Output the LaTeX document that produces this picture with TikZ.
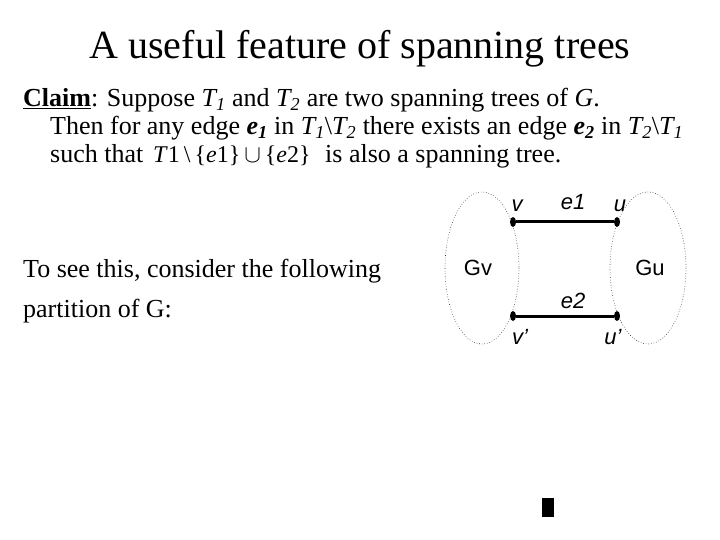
\documentclass[tikz,border=0pt]{standalone}
\usepackage{fontspec}
\setmainfont{Liberation Serif}
\setsansfont{Liberation Sans}
\usetikzlibrary{shapes.geometric}

\begin{document}
\begin{tikzpicture}[x=1pt, y=-1pt,
    textline/.style={anchor=base west, inner sep=0pt},
    vert/.style={ellipse, fill=black, inner sep=0pt, minimum width=6pt, minimum height=10pt},
    lbl/.style={font=\sffamily\fontsize{22}{26}\selectfont, inner sep=0pt},
    edgeline/.style={line width=3pt},
    part/.style={draw=black!80, dotted, line width=0.6pt}]
    \useasboundingbox[fill=white] (0,0) rectangle (720,540);

    % 标题
    \node[anchor=base, inner sep=0pt, font=\fontsize{40}{46}\selectfont] (title) at (360,59)
        {A useful feature of spanning trees};

    % 命题
    \node[textline, font=\fontsize{26}{28}\selectfont] (claimA) at (23,107)
        {\underline{\textbf{Claim}}: Suppose \textit{T\textsubscript{1}} and \textit{T\textsubscript{2}} are two spanning trees of \textit{G}.};
    \node[textline, font=\fontsize{26}{28}\selectfont] (claimB) at (50,135)
        {Then for any edge \textbf{\textit{e\textsubscript{1}}} in \textit{T\textsubscript{1}}\textbackslash\textit{T\textsubscript{2}} there exists an edge \textbf{\textit{e\textsubscript{2}}} in \textit{T\textsubscript{2}}\textbackslash\textit{T\textsubscript{1}}};
    \node[textline, font=\fontsize{26}{28}\selectfont] (claimC) at (50,163) {such that};
    \node[textline, font=\fontsize{24}{28}\selectfont] (formula) at (153,163)
        {\textit{T}1\,\textbackslash\,\{\textit{e}1\}\,$\cup$\,\{\textit{e}2\}};
    \node[textline, font=\fontsize{26}{28}\selectfont] (claimD) at (325,163) {is also a spanning tree.};

    % 说明
    \node[textline, font=\fontsize{26}{30}\selectfont] (seeA) at (23,277) {To see this, consider the following};
    \node[textline, font=\fontsize{26}{30}\selectfont] (seeB) at (23,317) {partition of G:};

    % 两个分块
    \draw[part] (482,268) ellipse (37 and 76);
    \draw[part] (648,268) ellipse (38 and 76);

    % 顶点
    \node[vert] (v) at (513,222) {};
    \node[vert] (u) at (617,222) {};
    \node[vert] (vp) at (513,316) {};
    \node[vert] (up) at (617,316) {};

    % 边
    \draw[edgeline] (v) -- (u);
    \draw[edgeline] (vp) -- (up);

    % 标注
    \node[lbl] (lv) at (517,206) {\itshape v};
    \node[lbl] (lu) at (620,206) {\itshape u};
    \node[lbl] (le1) at (573,202) {\itshape e1};
    \node[lbl] (le2) at (573,301) {\itshape e2};
    \node[lbl] (lvp) at (520,337) {\itshape v'};
    \node[lbl] (lup) at (613,337) {\itshape u'};
    \node[lbl] (gv) at (478,268) {Gv};
    \node[lbl] (gu) at (650,268) {Gu};

    % 小方块
    \fill (542,498) rectangle (554,517);
\end{tikzpicture}
\end{document}
